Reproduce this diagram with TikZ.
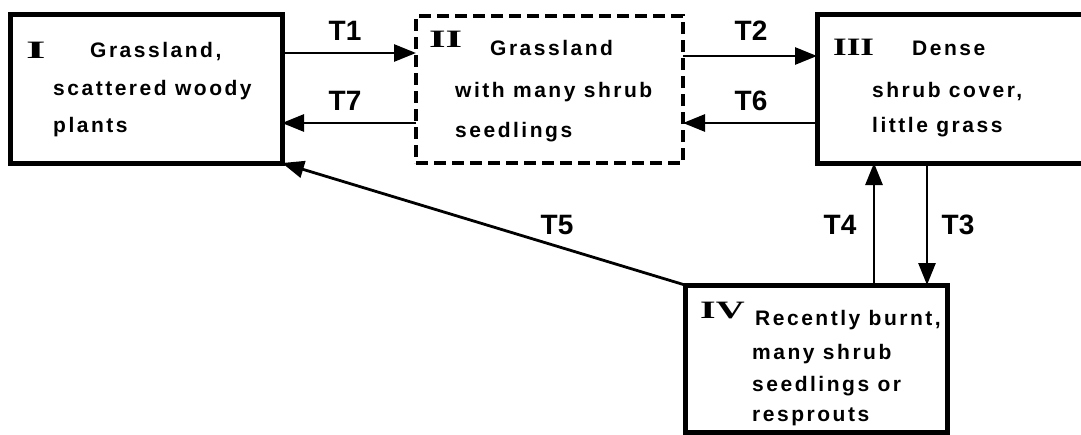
\documentclass[tikz,border=0pt]{standalone}
\usepackage{fontspec}
\usetikzlibrary{arrows.meta}
\newfontfamily\boxfont{Liberation Sans Bold}[LetterSpace=12]
\newfontfamily\labfont{Liberation Sans Bold}
\newfontfamily\romfont{Liberation Serif Bold}
\begin{document}
\begin{tikzpicture}[x=1pt,y=-1pt,
  box/.style={draw, line width=5pt, outer sep=0pt, inner sep=0pt},
  dbox/.style={draw, line width=4pt, dash pattern=on 12pt off 6pt, outer sep=0pt, inner sep=0pt},
  txt/.style={anchor=base west, inner sep=0pt, font=\boxfont\fontsize{21}{23}\selectfont},
  rom/.style={anchor=base west, inner sep=0pt, font=\romfont\fontsize{25}{27}\selectfont},
  lab/.style={anchor=base, inner sep=0pt, font=\labfont\fontsize{28}{30}\selectfont},
  arr/.style={line width=2.8pt, -{Triangle[length=22pt,width=17pt]}}]
\useasboundingbox (0,0) rectangle (1081,434);
% boxes
\node[box, minimum width=272pt, minimum height=149pt] (I) at (146,88.5) {};
\node[dbox, minimum width=267pt, minimum height=147pt] (II) at (549.5,89.5) {};
\node[box, minimum width=269pt, minimum height=149pt] (III) at (951.5,88.5) {};
\node[box, minimum width=262pt, minimum height=147pt] (IV) at (816,358.5) {};
% box I text
\node[rom] (rI) at (26,58) {\scalebox{2}[1]{I}};
\node[txt] (tIa) at (90,57) {Grassland,};
\node[txt] (tIb) at (53,95) {scattered woody};
\node[txt] (tIc) at (53,132) {plants};
% box II text
\node[rom] (rII) at (429,47) {\scalebox{1.7}[1]{II}};
\node[txt] (tIIa) at (490,55) {Grassland};
\node[txt] (tIIb) at (455,97) {with many shrub};
\node[txt] (tIIc) at (455,137) {seedlings};
% box III text
\node[rom] (rIII) at (833,55) {\scalebox{1.4}[1]{III}};
\node[txt] (tIIIa) at (912,55) {Dense};
\node[txt] (tIIIb) at (872,97) {shrub cover,};
\node[txt] (tIIIc) at (872,132) {little grass};
% box IV text
\node[rom] (rIV) at (700,318) {\scalebox{1.6}[1]{IV}};
\node[txt] (tIVa) at (755,325) {Recently burnt,};
\node[txt] (tIVb) at (752,359) {many shrub};
\node[txt] (tIVc) at (752,391) {seedlings or};
\node[txt] (tIVd) at (752,421) {resprouts};
% connector levels
\coordinate (yA) at (0,53);
\coordinate (yB) at (0,123);
\coordinate (yC) at (0,56);
\coordinate (xT4) at (874,0);
\coordinate (xT3) at (927,0);
% connectors
\draw[arr] (I.east |- yA) -- (II.west |- yA);
\draw[arr] (II.west |- yB) -- (I.east |- yB);
\draw[arr] (II.east |- yC) -- (III.west |- yC);
\draw[arr] (III.west |- yB) -- (II.east |- yB);
\draw[arr] (xT3 |- III.south) -- (xT3 |- IV.north);
\draw[arr] (xT4 |- IV.north) -- (xT4 |- III.south);
\draw[arr] (IV.north west) -- (I.south east);
% labels
\node[lab] (T1) at (345,40) {T1};
\node[lab] (T7) at (345,110) {T7};
\node[lab] (T2) at (751,40) {T2};
\node[lab] (T6) at (751,110) {T6};
\node[lab] (T5) at (557,234) {T5};
\node[lab] (T4) at (840,234) {T4};
\node[lab] (T3) at (958,234) {T3};
\end{tikzpicture}
\end{document}
